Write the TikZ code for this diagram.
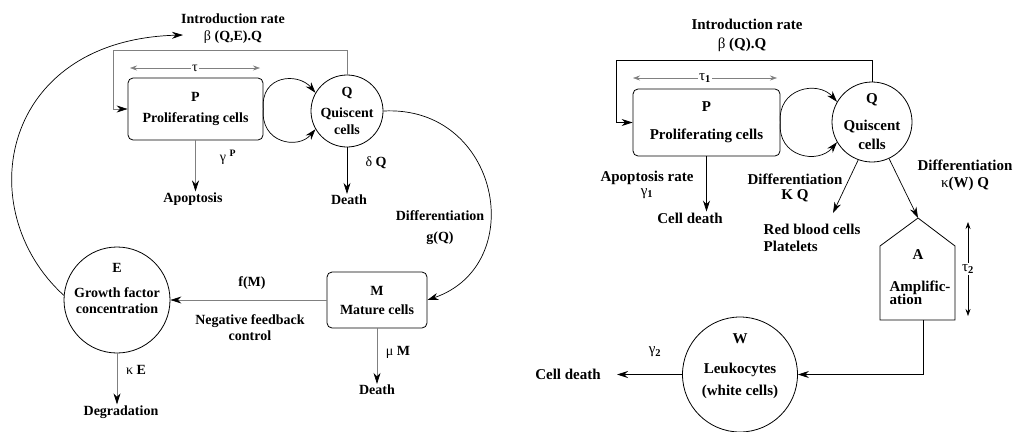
\documentclass[tikz,border=0pt]{standalone}
\usepackage{fontspec}
\setmainfont{Liberation Serif}
\usetikzlibrary{arrows.meta}

\tikzstyle{box} = [draw, rounded corners=5pt, line width=0.8pt, align=center]
\tikzstyle{pool} = [draw, circle, line width=0.8pt, inner sep=0pt, align=center]
\tikzstyle{txt} = [align=center, inner sep=1pt]
\tikzstyle{flow} = [line width=0.7pt, -{Stealth[length=11pt,width=7pt]}]
\tikzstyle{faint} = [line width=0.7pt, draw=black!50, -{Stealth[length=11pt,width=7pt,color=black]}]
\tikzstyle{span} = [line width=0.6pt, {Stealth[length=7pt,width=5pt]}-{Stealth[length=7pt,width=5pt]}]

\begin{document}
\begin{tikzpicture}[x=1pt, y=-1pt]
	\useasboundingbox (0,0) rectangle (1016,431);

	% left model: P, Q, M and growth factor E
	\begin{scope}[font=\bfseries\fontsize{14}{16}\selectfont]
		\node[txt] (intro1) at (233,19) {Introduction rate};
		\node[txt] (beta1) at (233,37) {{\mdseries β} (Q,E).Q};
		\node[box, minimum width=135, minimum height=62] (P1) at (195.5,109) {P\\[5pt]Proliferating cells};
		\node[pool, minimum size=72] (Q1) at (347,111) {Q\\[5pt]Quiscent\\[1pt]cells};
		\node[box, minimum width=100, minimum height=56] (M1) at (377,300) {M\\[3pt]Mature cells};
		\node[pool, minimum size=106] (E1) at (117,300) {};
		\node[txt] (E1txt) at (117,288) {E\\[9pt]Growth factor\\concentration};

		\coordinate (fbL1) at (113,50);
		\draw[faint] (Q1.north) |- (fbL1) |- (P1.west);
		\coordinate (tauA) at (130,68);
		\coordinate (tauB) at (260,68);
		\draw[span, draw=black!50] (tauA) -- node[fill=white, inner sep=1pt] (tau1) {{\mdseries τ}} (tauB);

		\draw[flow] (P1.east) .. controls (260,75) and (298,72) .. (Q1.150);
		\draw[flow] (P1.east) .. controls (260,143) and (298,150) .. (Q1.210);

		\node[txt] (apop) at (193,199) {Apoptosis};
		\draw[faint] (P1.south) -- (P1.south |- apop.north);
		\node[txt] (gamP) at (228,157) {{\mdseries γ} \textsuperscript{P}};

		\node[txt] (death1) at (349,200) {Death};
		\draw[flow] (Q1.south) -- (Q1.south |- death1.north);
		\node[txt] (delQ) at (376,163) {{\mdseries δ} Q};

		\draw[flow] (Q1.east) .. controls (500,105) and (530,265) .. (M1.east);
		\node[txt] (diffg) at (440,228) {Differentiation\\[5pt]g(Q)};

		\draw[faint] (M1.west) -- (E1.east);
		\node[txt] (fM) at (252,283) {f(M)};
		\node[txt] (negfb) at (250,328) {Negative feedback\\control};

		\node[txt] (degr) at (121,412) {Degradation};
		\draw[faint] (E1.south) -- (E1.south |- degr.north);
		\node[txt] (kapE) at (136,370) {{\mdseries κ} E};

		\node[txt] (death2) at (377,390) {Death};
		\draw[faint] (M1.south) -- (M1.south |- death2.north);
		\node[txt] (muM) at (398,352) {{\mdseries μ} M};

		\coordinate (introTip1) at (183,35);
		\draw[flow] (E1.175) .. controls (-30,210) and (0,40) .. (introTip1);
	\end{scope}

	% right model: P, Q, amplification A and leukocytes W
	\begin{scope}[font=\bfseries\fontsize{15}{17}\selectfont]
		\node[txt] (intro2) at (747,24) {Introduction rate};
		\node[txt] (beta2) at (742,45) {{\mdseries β} (Q).Q};
		\node[box, minimum width=147, minimum height=67] (P2) at (706.5,122.5) {P\\[11pt]Proliferating cells};
		\node[pool, minimum size=80] (Q2) at (872,122) {Q\\[10pt]Quiscent\\[2pt]cells};

		\coordinate (fbL2) at (616,60);
		\draw[flow] (Q2.north) |- (fbL2) |- (P2.west);
		\coordinate (tauC) at (633,78);
		\coordinate (tauD) at (777,78);
		\draw[span, draw=black!50] (tauC) -- node[fill=white, inner sep=1pt] (tau2) {{\mdseries τ}\textsubscript{1}} (tauD);

		\draw[flow] (P2.east) .. controls (777,88) and (818,80) .. (Q2.150);
		\draw[flow] (P2.east) .. controls (777,157) and (818,165) .. (Q2.210);

		\node[txt] (cd1) at (690,218) {Cell death};
		\draw[flow] (P2.south) -- (P2.south |- cd1.north);
		\node[txt] (apr) at (647,185) {Apoptosis rate\\[-3pt]{\mdseries γ}\textsubscript{1}};

		\coordinate (rbcTip) at (833,213);
		\draw[flow] (Q2.250) -- (rbcTip);
		\node[txt] (diffK) at (795,188) {Differentiation\\[-2pt]K Q};
		\node[txt, align=left] (rbc) at (812,238) {Red blood cells\\Platelets};

		\coordinate (Atop) at (918,218);
		\coordinate (Al) at (880,246);
		\coordinate (Ar) at (955,246);
		\coordinate (Abl) at (880,320);
		\coordinate (Abr) at (955,320);
		\draw[line width=0.8pt] (Atop) -- (Ar) -- (Abr) -- (Abl) -- (Al) -- cycle;
		\draw[flow] (Q2.295) -- (Atop);
		\node[txt] (diffW) at (965,175) {Differentiation\\{\mdseries κ}(W) Q};
		\node[txt] (Atxt) at (918,255) {A};
		\node[txt, align=left] (amp) at (920,293) {Amplific-\\[-4pt]ation};

		\coordinate (tauE) at (968,222);
		\coordinate (tauF) at (968,316);
		\draw[span] (tauE) -- node[fill=white, inner sep=1pt] (tau3) {{\mdseries τ}\textsubscript{2}} (tauF);

		\node[pool, minimum size=115] (W2) at (740,374.5) {};
		\node[txt] (W2txt) at (740,366) {W\\[13pt]Leukocytes\\[5pt](white cells)};
		\coordinate (Aout) at (923,320);
		\draw[flow] (Aout) |- (W2.east);

		\coordinate (cdTip) at (617,374.5);
		\draw[flow] (W2.west) -- (cdTip);
		\node[txt] (cd2) at (568,374) {Cell death};
		\node[txt] (gam2) at (655,352) {{\mdseries γ}\textsubscript{2}};
	\end{scope}
\end{tikzpicture}
\end{document}
